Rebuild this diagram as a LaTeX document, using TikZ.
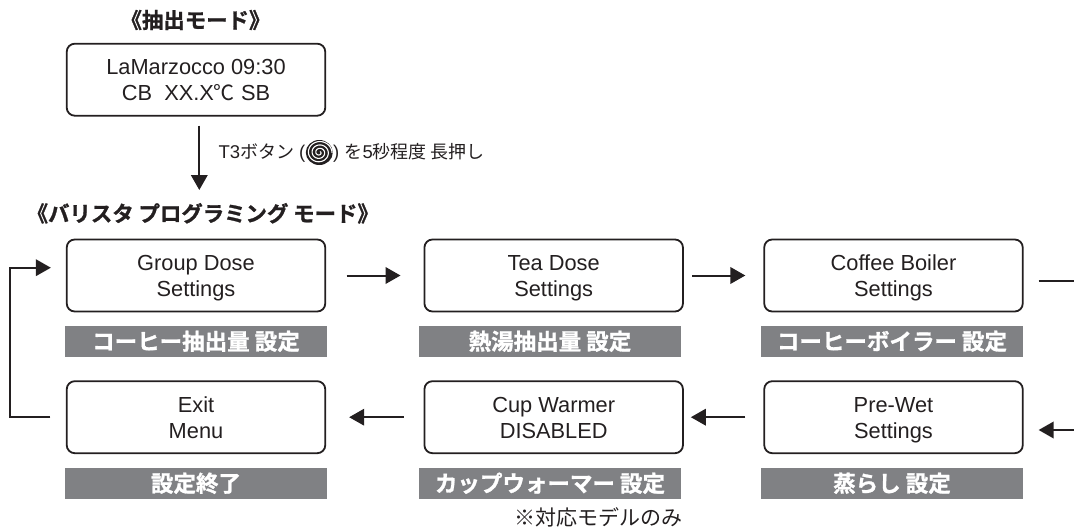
\documentclass[tikz,border=0pt]{standalone}
\usepackage{fontspec}
\usetikzlibrary{arrows.meta}
\setmainfont{Liberation Sans}
\newfontfamily\jp{Noto Sans CJK JP}
\newfontfamily\jpb{Noto Sans CJK JP Bold}[FakeBold=1.2]
\definecolor{barc}{HTML}{808184}
\definecolor{inkc}{HTML}{231F20}
\newcommand\twolines[2]{\rule{0pt}{24.2pt}#1\\\strut #2}
\tikzset{
  lcd/.style={draw=inkc,line width=1.8pt,rounded corners=8pt,minimum width=258.5pt,minimum height=72pt,inner sep=0pt,align=center,text=inkc,font=\fontsize{21.8}{26}\selectfont},
  bar/.style={fill=barc,minimum width=262pt,minimum height=31pt,inner sep=0pt,text=white,font=\jpb\fontsize{22.5}{26}\selectfont},
  title/.style={text=inkc,inner sep=0pt,font=\jpb\fontsize{21.4}{24}\selectfont},
  note/.style={text=inkc,inner sep=0pt,font=\fontsize{18.5}{22}\selectfont},
  flow/.style={draw=inkc,line width=2pt,-{Triangle[length=15pt,width=16.5pt]}},
  plain/.style={draw=inkc,line width=2pt}
}
\begin{document}
\begin{tikzpicture}[x=1pt,y=-1pt]
\useasboundingbox (0,0) rectangle (1074,530);
\node[title] (t1) at (195.5,20) {《抽出モード》};
\node[lcd] (main) at (196,79.7) {\twolines{LaMarzocco 09:30}{CB\ \ XX.X{\jp\fontsize{21}{26}\selectfont ℃} SB}};
\node[title,anchor=west] (t2) at (26.5,213.3) {《バリスタ プログラミング モード》};

\node[lcd] (group) at (196,275.5) {\twolines{Group Dose}{Settings}};
\node[lcd] (tea) at (553.7,275.5) {\twolines{Tea Dose}{Settings}};
\node[lcd] (coffee) at (893.5,275.5) {\twolines{Coffee Boiler}{Settings}};
\node[lcd] (exit) at (196,417.2) {\twolines{Exit}{Menu}};
\node[lcd] (cup) at (553.7,417.2) {\twolines{Cup Warmer}{DISABLED}};
\node[lcd] (pre) at (893.5,417.2) {\twolines{Pre-Wet}{Settings}};

\node[bar] (bgroup) at (196,341.3) {コーヒー抽出量 設定};
\node[bar] (btea) at (550,341.3) {熱湯抽出量 設定};
\node[bar] (bcoffee) at (892,341.3) {コーヒーボイラー 設定};
\node[bar] (bexit) at (196,483.3) {設定終了};
\node[bar] (bcup) at (550,483.3) {カップウォーマー 設定};
\node[bar] (bpre) at (892,483.3) {蒸らし 設定};

\node[note,anchor=west] (nl) at (218.3,153) {T3{\jp\fontsize{18}{22}\selectfont ボタン} (};
\coordinate (ic) at (319.3,152.5);
\node[note,anchor=west] (nr) at (333,153) {) {\jp\fontsize{18}{22}\selectfont を}5{\jp\fontsize{18}{22}\selectfont 秒程度 長押し}};
\node[text=inkc,inner sep=0pt,font=\jp\fontsize{21}{24}\selectfont] (only) at (598.5,517) {※対応モデルのみ};

% spiral button icon
\fill[inkc] (ic) ellipse [x radius=13.5pt,y radius=12.5pt];
\draw[white,line width=1.1pt,line cap=round,domain=0:1120,samples=160,smooth,variable=\t]
  plot ({319.3+(1.2+\t/1120*11.5)*cos(\t-40)},{152.5+(1.2+\t/1120*10.6)*sin(\t-40)});

\coordinate (a1e) at (199.3,190);
\draw[flow,shorten <=9pt] (main.south -| a1e) -- (a1e);
\draw[flow,shorten <=20.5pt,shorten >=23pt] (group.east) -- (tea.west);
\draw[flow,shorten <=8.5pt,shorten >=18pt] (tea.east) -- (coffee.west);
\coordinate (outr) at (1074,280.7);
\coordinate (inr) at (1074,430);
\draw[plain] ([xshift=15pt]coffee.east |- outr) -- (outr);
\draw[flow] (inr) -- ([xshift=15pt]pre.east |- inr);
\draw[flow,shorten <=18pt,shorten >=7pt] (pre.west) -- (cup.east);
\draw[flow,shorten <=20pt,shorten >=23pt] (cup.west) -- (exit.east);
\coordinate (loopb) at (9.6,417.2);
\coordinate (loopt) at (9.6,267.7);
\draw[flow,shorten <=15.5pt,shorten >=15pt] (exit.west) -- (loopb) -- (loopt) -- ([yshift=7.8pt]group.west);
\end{tikzpicture}
\end{document}
